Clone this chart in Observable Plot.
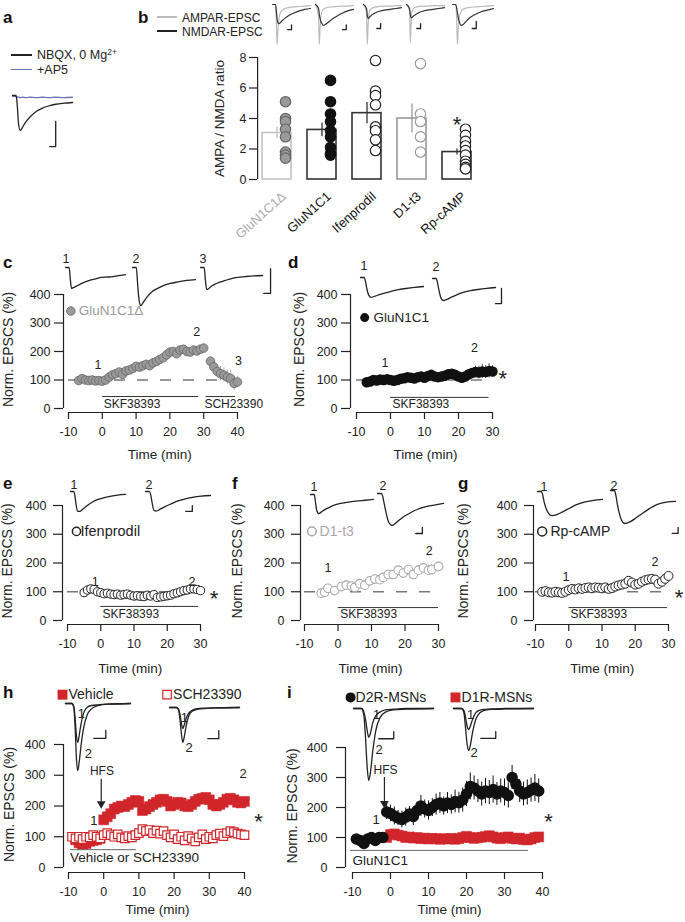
<!DOCTYPE html>
<html><head><meta charset="utf-8">
<script src="https://cdn.jsdelivr.net/npm/d3@7"></script>
<script src="https://cdn.jsdelivr.net/npm/@observablehq/plot@0.6"></script>
<style>
html,body{margin:0;padding:0;background:#fff;}
#fig{position:relative;width:685px;height:922px;overflow:hidden;background:#fff;font-family:"Liberation Sans",Arial,Helvetica,sans-serif;color:#222;}
#fig svg{overflow:visible;}
sup{font-size:0.68em;vertical-align:0.5em;line-height:0;}
</style></head><body><div id="fig"></div>
<script>
// ================= DATA =================
// sweep sample grids (percent of sweep) for the example EPSC traces
const gN = [0, 6, 8, 10, 13, 17, 22, 30, 40, 50, 60, 72, 86, 100];
const gB = [0, 8, 10, 12, 14, 17, 21, 26, 33, 42, 55, 70, 85, 100];
const gH = [0, 10, 13, 15, 17, 19, 21, 24, 28, 33, 40, 50, 65, 100];

// panel a traces (relative amplitude)
const traceA_NBQX = [0, 0, -0.3, -0.8, -1.0, -0.9, -0.76, -0.6, -0.45, -0.36, -0.3, -0.25, -0.22, -0.2];
const traceA_AP5 = [-0.02, -0.03, -0.05, -0.04, -0.06, -0.05, -0.06, -0.05, -0.06, -0.05, -0.06, -0.05, -0.06, -0.05];

// panel b
const bGroups = ["GluN1C1Δ", "GluN1C1", "Ifenprodil", "D1-t3", "Rp-cAMP"];
const bMeans = [3.05, 3.25, 4.35, 4.0, 1.8];
const bErrs = [0.4, 0.45, 0.7, 0.95, 0.2];
const bCellsDelta = [5.1, 4.0, 3.8, 3.3, 2.8, 1.8, 1.6, 1.4];
const bCellsC1 = [6.5, 5.1, 4.3, 3.8, 3.2, 2.8, 2.1, 1.7, 1.6];
const bCellsIfen = [7.8, 5.8, 5.5, 4.9, 3.45, 3.2, 2.6, 1.9];
const bCellsD1 = [7.6, 4.3, 3.8, 2.8, 1.8];
const bCellsRp = [3.3, 2.9, 2.5, 2.2, 1.9, 1.6, 1.2, 1.0, 0.8, 0.7];
const traceB_AMPA = [
  [0, 0, -0.4, -1.0, -0.7, -0.35, -0.2, -0.14, -0.1, -0.08, -0.06, -0.05, -0.04, -0.03],
  [0, -0.3, -1.0, -0.6, -0.3, -0.18, -0.12, -0.09, -0.07, -0.06, -0.05, -0.04, -0.04, -0.03],
  [0, -0.2, -1.0, -0.55, -0.25, -0.15, -0.1, -0.08, -0.06, -0.05, -0.04, -0.04, -0.03, -0.03],
  [0, -0.15, -0.95, -0.5, -0.2, -0.12, -0.08, -0.06, -0.05, -0.04, -0.04, -0.03, -0.03, -0.03],
  [0, 0, -0.3, -1.0, -0.6, -0.3, -0.18, -0.12, -0.09, -0.07, -0.06, -0.05, -0.04, -0.03]
];
const traceB_NMDA = [
  [0, 0, -0.15, -0.35, -0.45, -0.48, -0.45, -0.4, -0.34, -0.28, -0.22, -0.16, -0.12, -0.1],
  [0, -0.1, -0.25, -0.35, -0.42, -0.48, -0.52, -0.5, -0.45, -0.38, -0.3, -0.22, -0.16, -0.12],
  [0, -0.1, -0.28, -0.35, -0.34, -0.3, -0.27, -0.23, -0.2, -0.17, -0.14, -0.12, -0.1, -0.08],
  [0, -0.1, -0.25, -0.32, -0.33, -0.3, -0.27, -0.24, -0.2, -0.17, -0.14, -0.12, -0.1, -0.08],
  [0, 0, -0.08, -0.2, -0.33, -0.45, -0.52, -0.5, -0.42, -0.33, -0.25, -0.18, -0.14, -0.1]
];

// panel c
const tC = [-7,-6,-5,-4,-3,-2,-1,0,1,2,3,4,5,6,7,8,9,10,11,12,13,14,15,16,17,18,19,20,21,22,23,24,25,26,27,28,29,30,32,33,34,35,36,37,38,39,40];
const vC = [98,105,100,98,100,97,98,96,100,110,118,122,128,120,132,135,140,148,145,150,155,150,160,165,172,178,188,198,200,192,205,208,200,198,205,202,208,212,166,146,130,122,117,110,105,88,93];
const eC = [12,8,6,5,5,6,8,6,6,6,7,7,7,8,8,8,8,9,9,9,9,9,9,9,10,10,10,10,10,10,10,10,10,10,10,10,10,10,15,20,22,25,25,25,28,25,20];
const traceC = [
  [0, 0, -0.3, -0.55, -0.53, -0.5, -0.46, -0.4, -0.34, -0.3, -0.26, -0.25, -0.22, -0.19],
  [0, 0, -0.4, -0.8, -1.0, -0.92, -0.8, -0.65, -0.55, -0.47, -0.42, -0.38, -0.34, -0.32],
  [0, 0, -0.35, -0.58, -0.56, -0.5, -0.45, -0.39, -0.34, -0.29, -0.26, -0.24, -0.22, -0.21]
];

// panel d
const tD = [-7,-6,-5,-4,-3,-2,-1,0,1,2,3,4,5,6,7,8,9,10,11,12,13,14,15,16,17,18,19,20,21,22,23,24,25,26,27,28,29,30];
const vD = [92,95,100,98,102,100,103,100,97,100,104,106,110,108,105,110,112,108,114,118,112,110,112,115,120,122,118,112,108,112,120,125,128,126,130,128,132,130];
const eD = [15,8,6,5,5,5,5,5,5,5,6,6,6,6,6,6,6,6,6,6,6,6,6,6,8,8,8,8,8,8,10,12,20,22,25,22,25,20];
const traceD = [
  [0, 0, -0.2, -0.5, -0.8, -0.9, -0.86, -0.78, -0.7, -0.62, -0.55, -0.5, -0.45, -0.41],
  [0, 0, -0.2, -0.5, -0.85, -1.0, -0.96, -0.85, -0.72, -0.62, -0.55, -0.5, -0.45, -0.41]
];

// panel e
const tE = [-5,-4,-3,-2,-1,0,1,2,3,4,5,6,7,8,9,10,11,12,13,14,15,16,17,18,19,20,21,22,23,24,25,26,27,28,29,30];
const vE = [97,106,110,108,100,97,93,95,92,90,92,88,90,92,88,85,86,84,83,88,85,90,80,82,84,86,88,93,96,100,104,106,110,110,108,104];
const traceE = [
  [0, 0, -0.2, -0.6, -0.95, -0.95, -0.85, -0.68, -0.5, -0.38, -0.3, -0.23, -0.17, -0.14],
  [0, 0, -0.15, -0.5, -0.9, -0.93, -0.85, -0.72, -0.58, -0.45, -0.36, -0.28, -0.22, -0.19]
];

// panel f
const tF = [-5,-4,-3,-1,1,2.5,4,5,6.5,8,9.5,11,12.5,13.5,15,16.5,18,19.5,21,22.5,24,25.5,27,28,30];
const vF = [95,98,112,104,118,123,120,115,128,123,138,144,142,150,160,160,175,165,177,160,175,183,175,177,188];
const eF = [5,5,5,5,5,5,5,5,5,5,6,6,6,6,6,6,8,8,10,12,15,15,18,18,15];
const traceF = [
  [0, 0, -0.25, -0.5, -0.6, -0.55, -0.48, -0.4, -0.32, -0.27, -0.24, -0.21, -0.18, -0.15],
  [0, 0, -0.1, -0.3, -0.6, -0.9, -1.0, -0.88, -0.72, -0.6, -0.5, -0.42, -0.36, -0.31]
];

// panel g
const tG = [-8,-7,-6,-5,-4,-3,-2,-1,0,1,2,3,4,5,6,7,8,9,10,11,12,13,14,15,16,17,18,19,20,21,22,23,24,25,26,27,28,29,30];
const vG = [100,102,98,97,100,98,96,100,106,110,108,112,110,113,115,112,115,114,112,115,110,113,118,122,125,128,138,132,125,128,135,140,143,145,142,128,135,145,155];
const traceG = [
  [0, 0, -0.1, -0.3, -0.5, -0.66, -0.73, -0.7, -0.6, -0.5, -0.4, -0.32, -0.27, -0.24],
  [0, 0, -0.12, -0.35, -0.65, -0.9, -1.0, -0.95, -0.82, -0.68, -0.55, -0.42, -0.35, -0.33]
];

// panel h
const tHveh = [-8,-7,-6,-5,-4,-3,-2,-1,0,1,2,3,4,5,6,7,8,9,10,11,12,13,14,15,16,17,18,19,20,21,22,23,24,25,26,27,28,29,30,31,32,33,34,35,36,37,38,39,40];
const vHveh = [90,80,75,78,85,88,90,95,155,165,175,190,195,200,198,205,212,218,215,185,190,198,205,212,220,222,215,200,205,212,210,200,198,205,215,222,225,228,220,205,200,205,212,222,225,220,212,210,215];
const tHsch = [-9,-8,-7,-6,-5,-4,-3,-2,-1,0,1,2,3,4,5,6,7,8,9,10,11,12,13,14,15,16,17,18,19,20,21,22,23,24,25,26,27,28,29,30,31,32,33,34,35,36,37,38,39,40];
const vHsch = [100,95,100,92,100,98,105,100,95,105,112,105,100,108,98,95,102,98,105,112,125,118,122,112,120,110,118,105,98,108,92,100,88,102,95,85,98,108,92,100,95,105,110,102,112,118,115,110,108,105];
const traceH1 = [
  [0, 0, -0.05, -0.25, -0.5, -0.58, -0.48, -0.3, -0.14, -0.06, -0.03, -0.02, -0.01, 0],
  [0, 0, -0.08, -0.4, -0.85, -1.0, -0.88, -0.62, -0.36, -0.18, -0.08, -0.03, -0.01, 0]
];
const traceH2 = [
  [0, 0, -0.05, -0.2, -0.45, -0.6, -0.5, -0.3, -0.15, -0.07, -0.03, -0.02, -0.01, 0],
  [0, 0, -0.08, -0.35, -0.75, -1.0, -0.85, -0.5, -0.22, -0.1, -0.05, -0.03, -0.01, 0]
];

// panel i
const tID2 = [-9,-8,-7,-6,-5,-4,-3,-2,-1,0,1,2,3,4,5,6,7,8,9,10,11,12,13,14,15,16,17,18,19,20,21,22,23,24,25,26,27,28,29,30,31,32,33,34,35,36,37,38,39];
const vID2 = [95,90,80,95,100,90,100,100,185,180,172,165,160,168,178,170,190,205,195,190,200,210,215,205,215,210,220,216,225,245,270,265,255,245,255,250,260,245,255,250,240,300,278,255,245,250,258,265,255];
const eID2 = [10,12,15,12,10,12,10,10,25,28,30,25,28,30,25,30,28,35,30,32,30,35,35,30,35,32,38,35,40,42,45,40,38,40,42,40,45,38,40,45,42,40,35,38,40,42,40,45,40];
const tID1 = [-1,0,1,2,3,4,5,6,7,8,9,10,11,12,13,14,15,16,17,18,19,20,21,22,23,24,25,26,27,28,29,30,31,32,33,34,35,36,37,38,39];
const vID1 = [100,110,112,108,105,100,102,98,100,96,98,95,97,96,94,96,95,97,94,96,100,104,100,97,99,101,103,106,102,98,96,100,102,97,95,98,93,92,95,100,102];
const eID1 = [12,12,12,10,10,10,12,10,10,12,10,10,12,10,12,12,10,10,12,10,10,12,12,10,10,12,12,10,10,12,10,12,10,10,12,12,10,12,10,12,12];
const traceI1 = [
  [0, 0, -0.05, -0.15, -0.3, -0.4, -0.35, -0.2, -0.1, -0.05, -0.02, -0.01, 0, 0],
  [0, 0, -0.1, -0.4, -0.8, -1.0, -0.9, -0.6, -0.3, -0.13, -0.05, -0.02, -0.01, 0]
];
const traceI2 = [
  [0, 0, -0.05, -0.2, -0.42, -0.5, -0.42, -0.25, -0.1, -0.04, -0.02, -0.01, 0, 0],
  [0, 0, -0.1, -0.45, -0.85, -1.0, -0.88, -0.55, -0.25, -0.1, -0.04, -0.02, -0.01, 0]
];

// ================= HELPERS =================
const FONT = '"Liberation Sans", Arial, Helvetica, sans-serif';
const RED = "#d1262b";
const INK = "#222";
const fig = document.getElementById("fig");
function place(node, x, y) {
  node.style.position = "absolute";
  node.style.left = x + "px";
  node.style.top = y + "px";
  fig.appendChild(node);
}
function htmlText(x, yc, html, size, extra = {}) {
  const d = document.createElement("div");
  d.innerHTML = html;
  Object.assign(d.style, {position: "absolute", left: x + "px", top: (yc - size / 2) + "px",
    fontSize: size + "px", lineHeight: size + "px", whiteSpace: "nowrap", fontFamily: FONT, color: INK}, extra);
  fig.appendChild(d);
}
function letter(x, baseline, s) {
  htmlText(x, baseline - 14.4 + 8.5, s, 17, {fontWeight: "bold", color: "#111"});
}
function legendLine(x, y, w, color) {
  const d = document.createElement("div");
  Object.assign(d.style, {position: "absolute", left: x + "px", top: (y - 0.75) + "px", width: w + "px", height: "1.5px", background: color});
  fig.appendChild(d);
}
const pts = (g, v) => g.map((t, i) => ({t, v: v[i]}));
function traceBox(x0, x1, y0, ppu, series, extra = []) {
  const svg = Plot.plot({
    width: x1 - x0, height: ppu, margin: 0,
    x: {domain: [0, 100], axis: null}, y: {domain: [-1, 0], axis: null},
    style: {background: "transparent", overflow: "visible", fontFamily: FONT, fontSize: "12px", color: INK},
    marks: [
      ...series.map(s => Plot.line(pts(s.grid, s.v), {x: "t", y: "v", stroke: s.color, strokeWidth: s.w ?? 1.3, curve: "monotone-x"})),
      ...extra
    ]
  });
  place(svg, x0, y0);
}
const scaleBar = b => Plot.line([{t: b.t - b.dt, v: b.v}, {t: b.t, v: b.v}, {t: b.t, v: b.v + b.dv}], {x: "t", y: "v", stroke: INK, strokeWidth: 1.3});
const tlab = (t, v, s, o = {}) => Plot.text([s], {x: t, y: v, text: d => d, fontSize: 12.5, fill: INK, ...o});

function timePanel(c) {
  const ppm = (c.xB - c.xA) / (c.tMax - c.tMin);
  const ppv = (c.yZero - c.y400) / 400;
  const tLeft = c.tMin - (c.xA - c.ax) / ppm;
  const vBottom = -(c.axY - c.yZero) / ppv;
  const L = c.ax - 80, T = c.y400 - 12, R = c.xB + 20, B = c.axY + 50;
  const ticksX = [];
  for (let t = c.tMin; t <= c.tMax; t += 10) ticksX.push(t);
  const svg = Plot.plot({
    width: R - L, height: B - T,
    marginLeft: c.ax - L, marginRight: R - c.xB, marginTop: c.y400 - T, marginBottom: B - c.axY,
    x: {domain: [tLeft, c.tMax]},
    y: {domain: [vBottom, 400]},
    style: {background: "transparent", overflow: "visible", fontFamily: FONT, fontSize: "12.5px", color: INK},
    marks: [
      Plot.ruleX([tLeft], {y1: 0, y2: 400, stroke: INK, strokeWidth: 1.2}),
      Plot.ruleY([vBottom], {x1: c.tMin, x2: c.tMax, stroke: INK, strokeWidth: 1.2}),
      Plot.axisY({ticks: [0, 100, 200, 300, 400], tickSize: 9, tickPadding: c.ypad, tickFormat: d => String(d), label: null, fontSize: 12.5, strokeWidth: 1.2}),
      Plot.axisX({ticks: ticksX, tickSize: 7, tickPadding: 8, tickFormat: d => String(d), label: null, fontSize: 12.5, strokeWidth: 1.2}),
      Plot.text(["Time (min)"], {x: c.xLabelT, frameAnchor: "bottom", lineAnchor: "middle", textAnchor: "middle", dy: c.xLabelDy, text: d => d, fontSize: 13.5}),
      Plot.text(["Norm. EPSCS (%)"], {frameAnchor: "left", textAnchor: "middle", lineAnchor: "middle", rotate: -90, dx: -c.yLabelOff, dy: -4, text: d => d, fontSize: 14}),
      ...c.marks
    ]
  });
  place(svg, L, T);
}
const dashed = (x1, x2) => Plot.ruleY([100], {x1, x2, stroke: "#777", strokeWidth: 1.4, strokeDasharray: "11,12"});
const plab = (t, v, s, o = {}) => Plot.text([s], {x: t, y: v, text: d => d, fontSize: 12.5, fill: INK, ...o});
const star = (t, v) => Plot.text(["*"], {x: t, y: v, text: d => d, fontSize: 22, dy: 6, fill: INK});
const drug = (t1, t2, v, stroke = "#333") => Plot.ruleY([v], {x1: t1, x2: t2, stroke, strokeWidth: 1});
const errs = (data, stroke) => Plot.ruleX(data, {x: "t", y1: d => d.v - d.e, y2: d => d.v + d.e, stroke, strokeWidth: 1});
const rows = (t, v, e) => t.map((x, i) => ({t: x, v: v[i], e: e ? e[i] : 0}));

// ================= PANEL a =================
letter(3, 23, "a");
legendLine(11, 55, 21, INK);
htmlText(37, 55.5, "NBQX, 0 Mg<sup>2+</sup>", 12.5);
legendLine(11, 69.5, 21, "#6b73b5");
htmlText(37, 70.5, "+AP5", 12.5);
traceBox(12, 72, 95, 35, [
  {grid: gN, v: traceA_AP5, color: "#6b73b5"},
  {grid: gN, v: traceA_NBQX, color: INK}
], [scaleBar({t: 72, v: -1.46, dt: 10, dv: 0.72})]);

// ================= PANEL b =================
letter(138, 23, "b");
legendLine(157, 17, 20, "#bbb");
htmlText(182, 18, "AMPAR-EPSC", 12);
legendLine(157, 31, 20, INK);
htmlText(182, 32, "NMDAR-EPSC", 12);
const bX0 = [272, 315, 363, 406, 452];
const bW = [38, 38, 38, 38, 41];
const bBars = [
  {t: 50, v: -0.63, dt: 10, dv: 0.12}, {t: 81, v: -0.63, dt: 10, dv: 0.12}, {t: 45, v: -0.6, dt: 10, dv: 0.12},
  {t: 37, v: -0.6, dt: 10, dv: 0.12}, {t: 58, v: -0.6, dt: 10, dv: 0.18}
];
bX0.forEach((x0, i) => traceBox(x0, x0 + bW[i], 4, 40, [
  {grid: gB, v: traceB_AMPA[i], color: "#bbb", w: 1.2},
  {grid: gB, v: traceB_NMDA[i], color: "#333", w: 1.2}
], [scaleBar(bBars[i])]));

const bData = bGroups.map((g, i) => ({g, m: bMeans[i], e: bErrs[i]}));
const bCells = [bCellsDelta, bCellsC1, bCellsIfen, bCellsD1, bCellsRp];
const bPts = bGroups.flatMap((g, i) => bCells[i].map(v => ({g, v})));
const bBarColor = {"GluN1C1Δ": "#c4c4c4", "GluN1C1": "#333", "Ifenprodil": "#333", "D1-t3": "#999", "Rp-cAMP": "#333"};
const bLabColor = {"GluN1C1Δ": "#aaa", "GluN1C1": "#111", "Ifenprodil": "#111", "D1-t3": "#111", "Rp-cAMP": "#111"};
const bDotFill = {"GluN1C1Δ": "#9a9a9a", "GluN1C1": "#111", "Ifenprodil": "#fff", "D1-t3": "#fff", "Rp-cAMP": "#fff"};
const bDotStroke = {"GluN1C1Δ": "#666", "GluN1C1": "#111", "Ifenprodil": "#222", "D1-t3": "#999", "Rp-cAMP": "#222"};
{
  const L = 180, T = 40, W = 320, H = 220;
  const svg = Plot.plot({
    width: W, height: H, marginLeft: 257 - L, marginRight: L + W - 484, marginTop: 57 - T, marginBottom: T + H - 179,
    x: {type: "band", domain: bGroups, paddingInner: 0.35, paddingOuter: 0.17, align: 0.3, axis: null},
    y: {domain: [0, 8]},
    color: {type: "identity"},
    style: {background: "transparent", overflow: "visible", fontFamily: FONT, fontSize: "12.5px", color: INK},
    marks: [
      Plot.axisY({ticks: [0, 2, 4, 6, 8], tickSize: 8, tickPadding: 3, tickFormat: d => String(d), label: null, fontSize: 12.5, strokeWidth: 1.2}),
      Plot.ruleX([bGroups[0]], {y1: 0, y2: 8, dx: -19.4, stroke: INK, strokeWidth: 1.2}),
      Plot.barY(bData, {x: "g", y: "m", fill: "white", stroke: d => bBarColor[d.g], strokeWidth: 1.6}),
      Plot.ruleX(bData, {x: "g", y1: d => d.m - d.e, y2: d => d.m + d.e, stroke: d => bBarColor[d.g], strokeWidth: 1.3}),
      Plot.dot(bPts, {x: "g", y: "v", r: 5.2, fill: d => bDotFill[d.g], stroke: d => bDotStroke[d.g], strokeWidth: 1.2, dx: 8.5}),
      Plot.text(bGroups, {x: d => d, text: d => d, frameAnchor: "bottom", rotate: -42, textAnchor: "end", lineAnchor: "middle", dx: 7, dy: 15, fill: d => bLabColor[d], fontSize: 13}),
      Plot.text(["AMPA / NMDA ratio"], {frameAnchor: "left", textAnchor: "middle", lineAnchor: "middle", rotate: -90, dx: -38, text: d => d, fontSize: 13.5}),
      Plot.text(["*"], {x: () => "Rp-cAMP", y: 4.0, dy: 6, text: d => d, fontSize: 22})
    ]
  });
  place(svg, L, T);
}

// ================= PANEL c =================
letter(3, 268, "c");
traceBox(65, 125, 267, 38, [{grid: gN, v: traceC[0], color: INK}], [tlab(-5, 0.13, "1", {textAnchor: "start", lineAnchor: "bottom"})]);
traceBox(132, 195, 267, 38, [{grid: gN, v: traceC[1], color: INK}], [tlab(0, 0.13, "2", {textAnchor: "start", lineAnchor: "bottom"})]);
traceBox(200, 262, 267, 38, [{grid: gN, v: traceC[2], color: INK}], [tlab(-1.6, 0.13, "3", {textAnchor: "start", lineAnchor: "bottom"}), scaleBar({t: 113, v: -0.68, dt: 11, dv: 0.65})]);
const cData = rows(tC, vC, eC);
timePanel({ax: 63, xA: 68, xB: 237, tMin: -10, tMax: 40, y400: 294, yZero: 408, axY: 412, ypad: 4, xLabelT: 17, xLabelDy: 42, yLabelOff: 55,
  marks: [
    dashed(-10, 40),
    errs(cData, "#aaa"),
    Plot.dot(cData, {x: "t", y: "v", r: 4.3, fill: "#9a9a9a", stroke: "#666", strokeWidth: 0.8}),
    drug(0.1, 28.5, 42), plab(0.4, 14, "SKF38393", {textAnchor: "start", fontSize: 12}),
    drug(30.7, 39.4, 42), plab(30.2, 14, "SCH23390", {textAnchor: "start", fontSize: 12}),
    plab(-1.3, 151, "1"), plab(27.9, 270, "2"), plab(40.3, 165, "3"),
    Plot.dot([0], {x: -9.3, y: 342, r: 4.3, fill: "#9a9a9a", stroke: "#666", strokeWidth: 0.8}),
    plab(-7, 342, "GluN1C1Δ", {textAnchor: "start", fill: "#9a9a9a", fontSize: 13.5})
  ]});

// ================= PANEL d =================
letter(288, 268, "d");
traceBox(360, 423, 277, 22, [{grid: gN, v: traceD[0], color: INK}], [tlab(0, 0.32, "1", {textAnchor: "start", lineAnchor: "bottom"})]);
traceBox(432, 495, 278, 22, [{grid: gN, v: traceD[1], color: INK}], [tlab(0, 0.36, "2", {textAnchor: "start", lineAnchor: "bottom"}), scaleBar({t: 109.5, v: -1.14, dt: 9.5, dv: 0.69})]);
const dData = rows(tD, vD, eD);
timePanel({ax: 350, xA: 356, xB: 492, tMin: -10, tMax: 30, y400: 294, yZero: 408, axY: 412, ypad: 4, xLabelT: 10.3, xLabelDy: 42, yLabelOff: 51,
  marks: [
    dashed(-10, 30),
    errs(dData, "#444"),
    Plot.dot(dData, {x: "t", y: "v", r: 4.5, fill: "#111", stroke: "#111"}),
    drug(0, 29, 39), plab(0.6, 14, "SKF38393", {textAnchor: "start", fontSize: 12}),
    plab(-1.6, 160, "1"), plab(24.7, 212, "2"), star(33, 126),
    Plot.dot([0], {x: -7.6, y: 319, r: 4.5, fill: "#111"}),
    plab(-5, 319, "GluN1C1", {textAnchor: "start", fontSize: 13.5})
  ]});

// ================= PANEL e =================
letter(3, 489, "e");
traceBox(70, 125, 491, 21, [{grid: gN, v: traceE[0], color: INK}], [tlab(0, 0.1, "1", {textAnchor: "start", lineAnchor: "bottom"})]);
traceBox(145, 210, 491, 21, [{grid: gN, v: traceE[1], color: INK}], [tlab(0, 0.1, "2", {textAnchor: "start", lineAnchor: "bottom"}), scaleBar({t: 72, v: -0.95, dt: 10, dv: 0.28})]);
const eData = rows(tE, vE);
timePanel({ax: 62, xA: 67, xB: 200, tMin: -10, tMax: 30, y400: 505, yZero: 620, axY: 624, ypad: 7, xLabelT: 8.9, xLabelDy: 44, yLabelOff: 54.5,
  marks: [
    dashed(-10, 30),
    Plot.dot(eData, {x: "t", y: "v", r: 4.1, fill: "#fff", stroke: INK, strokeWidth: 1}),
    drug(0, 29.4, 49), plab(0.5, 21, "SKF38393", {textAnchor: "start", fontSize: 12}),
    plab(-1.7, 134, "1"), plab(27.4, 134, "2"), star(34.1, 97),
    Plot.dot([0], {x: -7.3, y: 310, r: 4.1, fill: "#fff", stroke: INK}),
    plab(-6.1, 310, "Ifenprodil", {textAnchor: "start", fontSize: 14.5})
  ]});

// ================= PANEL f =================
letter(232, 489, "f");
traceBox(310, 373, 494, 32, [{grid: gN, v: traceF[0], color: INK}], [tlab(0, 0.125, "1", {textAnchor: "start", lineAnchor: "bottom"})]);
traceBox(377, 443, 493, 32, [{grid: gN, v: traceF[1], color: INK}], [tlab(3, 0.1, "2", {textAnchor: "start", lineAnchor: "bottom"}), scaleBar({t: 68, v: -1.25, dt: 10, dv: 0.19})]);
const fData = rows(tF, vF, eF);
timePanel({ax: 300, xA: 304, xB: 438, tMin: -10, tMax: 30, y400: 505, yZero: 620, axY: 624, ypad: 7, xLabelT: 9.7, xLabelDy: 44, yLabelOff: 63,
  marks: [
    dashed(-10, 30),
    errs(fData, "#bbb"),
    Plot.dot(fData, {x: "t", y: "v", r: 4.3, fill: "#fff", stroke: "#a8a8a8", strokeWidth: 1.1}),
    drug(0.1, 30, 45), plab(0.7, 21, "SKF38393", {textAnchor: "start", fontSize: 12}),
    plab(-3, 184, "1"), plab(27.2, 242, "2"),
    Plot.dot([0], {x: -7.8, y: 310, r: 4.3, fill: "#fff", stroke: "#a8a8a8"}),
    plab(-5.5, 310, "D1-t3", {textAnchor: "start", fill: "#a8a8a8", fontSize: 14})
  ]});

// ================= PANEL g =================
letter(458, 489, "g");
traceBox(537, 602, 491, 33, [{grid: gN, v: traceG[0], color: INK}], [tlab(4.6, 0.02, "1", {textAnchor: "start", lineAnchor: "bottom"})]);
traceBox(610, 675, 490, 33, [{grid: gN, v: traceG[1], color: INK}], [tlab(0, 0.02, "2", {textAnchor: "start", lineAnchor: "bottom"}), scaleBar({t: 104, v: -1.3, dt: 9, dv: 0.18})]);
const gData = rows(tG, vG);
timePanel({ax: 533, xA: 535, xB: 668, tMin: -10, tMax: 30, y400: 505, yZero: 620, axY: 624, ypad: 7, xLabelT: 10.1, xLabelDy: 44, yLabelOff: 69.5,
  marks: [
    dashed(-10, 30),
    Plot.dot(gData, {x: "t", y: "v", r: 4.5, fill: "#fff", stroke: INK, strokeWidth: 1}),
    drug(0.1, 29.7, 45), plab(0.5, 21, "SKF38393", {textAnchor: "start", fontSize: 12}),
    plab(-0.8, 151, "1"), plab(25.9, 203, "2"), star(33.2, 100),
    Plot.dot([0], {x: -8, y: 310, r: 4.5, fill: "#fff", stroke: INK}),
    plab(-5.5, 310, "Rp-cAMP", {textAnchor: "start", fontSize: 14})
  ]});

// ================= PANEL h =================
letter(3, 698, "h");
traceBox(64.65, 129.65, 703, 67, [{grid: gH, v: traceH1[0], color: INK}, {grid: gH, v: traceH1[1], color: INK}],
  [tlab(24.4, -0.15, "1", {fontSize: 13}), tlab(35.2, -0.75, "2", {fontSize: 13}), scaleBar({t: 62, v: -0.52, dt: 18.5, dv: 0.12})]);
traceBox(168.7, 238.7, 707, 35, [{grid: gH, v: traceH2[0], color: INK}, {grid: gH, v: traceH2[1], color: INK}],
  [tlab(21.1, -0.3, "1", {fontSize: 13}), tlab(28.1, -1.14, "2", {fontSize: 13}), scaleBar({t: 70.4, v: -0.89, dt: 15.7, dv: 0.23})]);
const hVeh = rows(tHveh, vHveh);
const hSch = rows(tHsch, vHsch);
timePanel({ax: 63, xA: 68, xB: 244, tMin: -10, tMax: 40, y400: 744, yZero: 867, axY: 872, ypad: 9, xLabelT: 15.3, xLabelDy: 37.5, yLabelOff: 54,
  marks: [
    Plot.dot(hVeh, {x: "t", y: "v", symbol: "square", r: 5.6, fill: RED, stroke: RED, strokeWidth: 0.5}),
    Plot.dot(hSch, {x: "t", y: "v", symbol: "square", r: 4.8, fill: "#fff", stroke: RED, strokeWidth: 1.2}),
    drug(-9.4, 9.3, 58, "#666"), plab(-9.6, 33, "Vehicle or SCH23390", {textAnchor: "start", fontSize: 13.5}),
    plab(-0.5, 314, "HFS", {fontSize: 12}),
    Plot.ruleX([0], {x: -0.7, y1: 287, y2: 212, stroke: INK, strokeWidth: 1.2}),
    Plot.dot([0], {x: -0.7, y: 207, symbol: "triangle", r: 3.2, fill: INK, rotate: 180}),
    plab(-2.8, 153, "1", {fontSize: 13}), plab(39.6, 306, "2", {fontSize: 13}), star(44, 169),
    Plot.dot([0], {x: -11.7, y: 562, symbol: "square", r: 5.6, fill: RED}),
    plab(-10, 562, "Vehicle", {textAnchor: "start", fontSize: 14}),
    Plot.dot([0], {x: 18, y: 562, symbol: "square", r: 4.8, fill: "#fff", stroke: RED, strokeWidth: 1.2}),
    plab(19.7, 562, "SCH23390", {textAnchor: "start", fontSize: 14})
  ]});

// ================= PANEL i =================
letter(287, 698, "i");
traceBox(352.8, 432.8, 708, 72, [{grid: gH, v: traceI1[0], color: INK}, {grid: gH, v: traceI1[1], color: INK}],
  [tlab(29, -0.09, "1", {fontSize: 13}), tlab(32.1, -0.57, "2", {fontSize: 13}), scaleBar({t: 50.3, v: -0.42, dt: 18.75, dv: 0.1})]);
traceBox(452.8, 532.8, 708, 42, [{grid: gH, v: traceI2[0], color: INK}, {grid: gH, v: traceI2[1], color: INK}],
  [tlab(21.5, -0.15, "1", {fontSize: 13}), tlab(25.9, -1.05, "2", {fontSize: 13}), scaleBar({t: 52.8, v: -0.71, dt: 18.75, dv: 0.16})]);
const iD2 = rows(tID2, vID2, eID2);
const iD1 = rows(tID1, vID1, eID1);
timePanel({ax: 345, xA: 352, xB: 542, tMin: -10, tMax: 40, y400: 747, yZero: 867, axY: 872, ypad: 9, xLabelT: 15.5, xLabelDy: 37.5, yLabelOff: 52.5,
  marks: [
    errs(iD1, RED),
    Plot.dot(iD1, {x: "t", y: "v", symbol: "square", r: 5.6, fill: RED, stroke: RED, strokeWidth: 0.5}),
    errs(iD2, "#111"),
    Plot.dot(iD2, {x: "t", y: "v", r: 5, fill: "#111", stroke: "#111"}),
    drug(-10.5, 36.3, 57, "#666"), plab(-10, 23, "GluN1C1", {textAnchor: "start", fontSize: 13.5}),
    plab(-1.3, 323, "HFS", {fontSize: 12}),
    Plot.ruleX([0], {x: -1.6, y1: 300, y2: 218, stroke: INK, strokeWidth: 1.2}),
    Plot.dot([0], {x: -1.6, y: 213, symbol: "triangle", r: 3.2, fill: INK, rotate: 180}),
    plab(-3.8, 160, "1", {fontSize: 13}), star(41.6, 173),
    Plot.dot([0], {x: -10.5, y: 567, r: 5, fill: "#111"}),
    plab(-9.2, 567, "D2R-MSNs", {textAnchor: "start", fontSize: 14}),
    Plot.dot([0], {x: 17.1, y: 567, symbol: "square", r: 5.6, fill: RED}),
    plab(18.7, 567, "D1R-MSNs", {textAnchor: "start", fontSize: 14})
  ]});
</script></body></html>
